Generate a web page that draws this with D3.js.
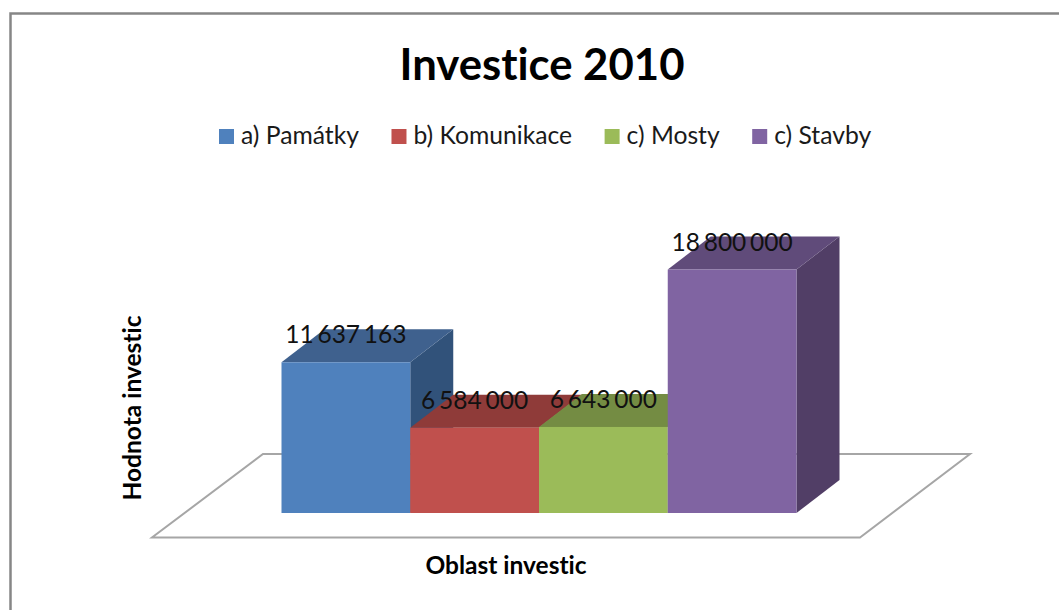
<!DOCTYPE html>
<html>
<head>
<meta charset="utf-8">
<script src="https://cdn.jsdelivr.net/npm/d3@7"></script>
<style>
	html, body { margin: 0; padding: 0; background: #fff; overflow: hidden; }
	text { font-family: Lato, "Open Sans", sans-serif; fill: #1a1a1a; font-variant-ligatures: none; }
	.title { font-size: 43.7px; font-weight: 700; fill: #000; }
	.axis-title { font-size: 24.5px; font-weight: 700; fill: #000; }
	.legend-label { font-size: 24.7px; }
	.value { font-size: 24.5px; fill: #111; word-spacing: -2.5px; }
</style>
</head>
<body>
<div class="box"></div>
<script>
var categories = ['a) Památky', 'b) Komunikace', 'c) Mosty', 'c) Stavby'];
var values = [11637163, 6584000, 6643000, 18800000];
var valueLabels = ['11 637 163', '6 584 000', '6 643 000', '18 800 000'];
var frontColors = ['#4F81BD', '#C0504D', '#9BBB59', '#8064A2'];
var topColors = ['#3F618E', '#8F3B39', '#748C43', '#604B7A'];
var sideColors = ['#31527A', '#7A3230', '#63783A', '#513E66'];

var width = 1059, height = 610;
var depthX = 43, depthY = 33;
var floorNear = 537.5, floorFar = 454;

var svg = d3.select('.box')
	.append('svg')
	.attr('width', width)
	.attr('height', height)
	.style('display', 'block');

var x = d3.scaleBand().domain(categories).range([281.5, 796.5]);
var y = d3.scaleLinear().domain([0, 18800000]).range([513, 269.5]);

// chart frame, runs off the right and bottom of the picture
svg.append('path')
	.attr('d', 'M10.5,' + height + 'V13.5H' + width)
	.attr('fill', 'none')
	.attr('stroke', '#868686')
	.attr('stroke-width', 2.5);

svg.append('text')
	.attr('class', 'title')
	.attr('x', 542)
	.attr('y', 80)
	.attr('text-anchor', 'middle')
	.text('Investice 2010');

// legend, laid out left to right from the measured labels
var legendX = 219;
categories.forEach(function(c, i) {
	svg.append('rect')
		.attr('x', legendX)
		.attr('y', 129)
		.attr('width', 15)
		.attr('height', 15)
		.style('fill', frontColors[i]);

	var t = svg.append('text')
		.attr('class', 'legend-label')
		.attr('x', legendX + 22)
		.attr('y', 144)
		.text(c);

	legendX += 22 + t.node().getComputedTextLength() + 32.5;
});

// floor
var floor = [[152, floorNear], [860, floorNear], [970, floorFar], [263, floorFar]];
svg.append('path')
	.attr('d', d3.line()(floor) + 'Z')
	.attr('fill', '#fff')
	.attr('stroke', '#a6a6a6')
	.attr('stroke-width', 2);

// bars, painted left to right so each one covers its neighbour's side
var base = y(0);
categories.forEach(function(c, i) {
	var x0 = x(c), x1 = x0 + x.bandwidth(), top = y(values[i]);

	svg.append('path')
		.attr('d', d3.line()([[x1, top], [x1 + depthX, top - depthY], [x1 + depthX, base - depthY], [x1, base]]) + 'Z')
		.style('fill', sideColors[i]);

	svg.append('path')
		.attr('d', d3.line()([[x0, top], [x1, top], [x1 + depthX, top - depthY], [x0 + depthX, top - depthY]]) + 'Z')
		.style('fill', topColors[i]);

	svg.append('rect')
		.attr('x', x0)
		.attr('y', top)
		.attr('width', x.bandwidth())
		.attr('height', base - top)
		.style('fill', frontColors[i]);
});

svg.selectAll('text.value')
	.data(categories)
	.enter()
	.append('text')
		.attr('class', 'value')
		.attr('x', function(d) { return x(d) + x.bandwidth() / 2; })
		.attr('y', function(d, i) { return y(values[i] ) - 19; })
		.attr('text-anchor', 'middle')
		.text(function(d, i) { return valueLabels[i]; });

svg.append('text')
	.attr('class', 'axis-title')
	.attr('x', 506)
	.attr('y', 574)
	.attr('text-anchor', 'middle')
	.text('Oblast investic');

svg.append('text')
	.attr('class', 'axis-title')
	.attr('transform', 'translate(140.5,408) rotate(-90)')
	.attr('text-anchor', 'middle')
	.text('Hodnota investic');
</script>
</body>
</html>
